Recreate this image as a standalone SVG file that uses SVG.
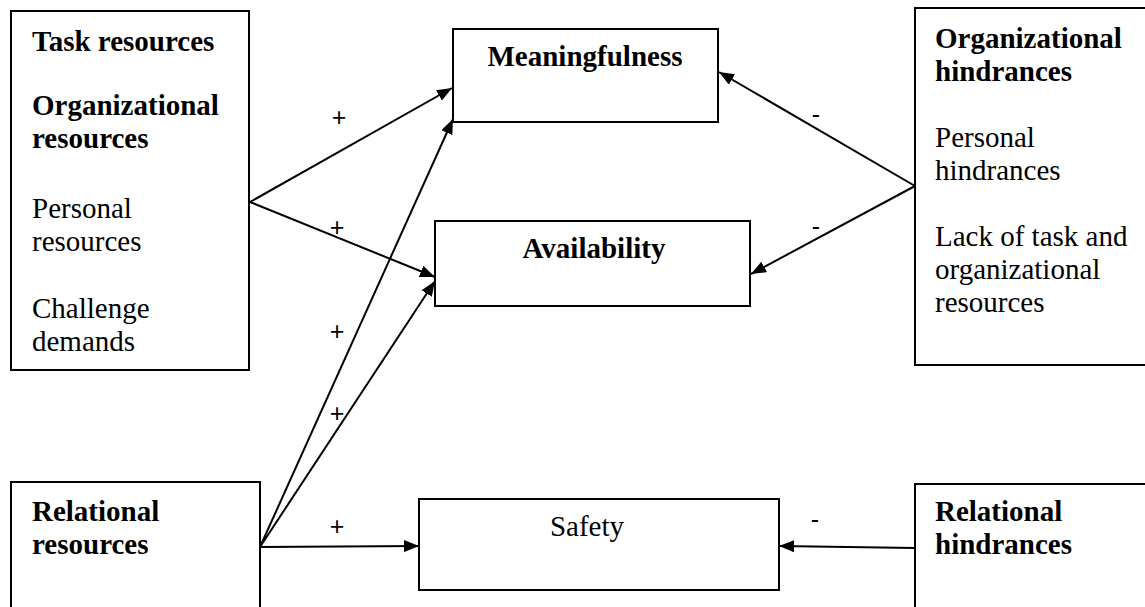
<svg xmlns="http://www.w3.org/2000/svg" width="1145" height="607" viewBox="0 0 1145 607">
<style>
.box{fill:#fff;stroke:#000;stroke-width:2}
.t{font-family:"Liberation Serif","Times New Roman",serif;font-size:29px;fill:#000}
.b{font-weight:bold}
.c{text-anchor:middle}
.conn line{stroke:#000;stroke-width:2;marker-end:url(#ah)}
.lbl{font-family:"Liberation Sans",Arial,sans-serif;font-size:25px;fill:#000;text-anchor:middle}
</style>
<defs>
<marker id="ah" markerUnits="userSpaceOnUse" markerWidth="16" markerHeight="12" refX="15" refY="6" orient="auto">
<path d="M0,0 L15,6 L0,12 z" fill="#000"/>
</marker>
</defs>
<rect width="1145" height="607" fill="#fff"/>
<g id="task-resources">
<rect class="box" x="11" y="11" width="238" height="359"/>
<text class="t b" x="32" y="51">Task resources</text>
<text class="t b" x="32" y="115">Organizational</text>
<text class="t b" x="32" y="148">resources</text>
<text class="t" x="32" y="218">Personal</text>
<text class="t" x="32" y="251">resources</text>
<text class="t" x="32" y="318">Challenge</text>
<text class="t" x="32" y="351">demands</text>
</g>
<g id="meaningfulness">
<rect class="box" x="453" y="29" width="265" height="93"/>
<text class="t b c" x="585" y="66">Meaningfulness</text>
</g>
<g id="availability">
<rect class="box" x="435" y="221" width="315" height="85"/>
<text class="t b c" x="594" y="258">Availability</text>
</g>
<g id="org-hindrances">
<rect class="box" x="915" y="8" width="245" height="357"/>
<text class="t b" x="935" y="48">Organizational</text>
<text class="t b" x="935" y="81">hindrances</text>
<text class="t" x="935" y="147">Personal</text>
<text class="t" x="935" y="180">hindrances</text>
<text class="t" x="935" y="246">Lack of task and</text>
<text class="t" x="935" y="279">organizational</text>
<text class="t" x="935" y="312">resources</text>
</g>
<g id="relational-resources">
<rect class="box" x="11" y="482" width="249" height="140"/>
<text class="t b" x="32" y="521">Relational</text>
<text class="t b" x="32" y="554">resources</text>
</g>
<g id="safety">
<rect class="box" x="419" y="499" width="360" height="91"/>
<text class="t c" x="587" y="536">Safety</text>
</g>
<g id="relational-hindrances">
<rect class="box" x="915" y="484" width="245" height="140"/>
<text class="t b" x="935" y="521">Relational</text>
<text class="t b" x="935" y="554">hindrances</text>
</g>
<g id="connectors" class="conn">
<line x1="250" y1="202" x2="452" y2="88"/>
<line x1="250" y1="202" x2="435" y2="277"/>
<line x1="260" y1="547" x2="453" y2="119"/>
<line x1="260" y1="547" x2="435" y2="281"/>
<line x1="260" y1="547" x2="419" y2="546"/>
<line x1="915" y1="186" x2="719" y2="72"/>
<line x1="915" y1="186" x2="751" y2="274"/>
<line x1="915" y1="548" x2="779" y2="546"/>
<text class="lbl" x="339" y="126">+</text>
<text class="lbl" x="337" y="236">+</text>
<text class="lbl" x="337" y="340">+</text>
<text class="lbl" x="337" y="422">+</text>
<text class="lbl" x="337" y="535">+</text>
<text class="lbl" x="816" y="123">-</text>
<text class="lbl" x="816" y="235">-</text>
<text class="lbl" x="815" y="528">-</text>
</g>
</svg>
